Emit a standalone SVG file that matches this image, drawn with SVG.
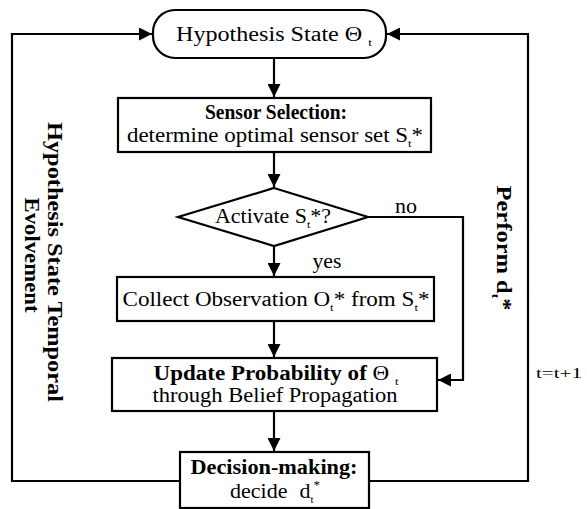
<svg xmlns="http://www.w3.org/2000/svg" width="587" height="509" viewBox="0 0 587 509">
<style>
.box{fill:#fff;stroke:#000;stroke-width:2.2}
.ln{fill:none;stroke:#000;stroke-width:2.2}
.t{font-family:"Liberation Serif","Times New Roman",serif;font-size:20px;fill:#000;text-anchor:middle}
.b{font-weight:bold}
.n{font-weight:normal}
.sub{font-size:11px}
</style>
<defs>
<marker id="ah" viewBox="0 0 10 10" refX="10" refY="5" markerWidth="15" markerHeight="13" markerUnits="userSpaceOnUse" orient="auto">
<path d="M0,0 L10,5 L0,10 z" fill="#000"/>
</marker>
</defs>
<g id="connectors">
<line class="ln" x1="274" y1="58" x2="274" y2="97" marker-end="url(#ah)"/>
<line class="ln" x1="274" y1="152" x2="274" y2="187" marker-end="url(#ah)"/>
<line class="ln" x1="274" y1="246" x2="274" y2="276" marker-end="url(#ah)"/>
<line class="ln" x1="274" y1="321" x2="274" y2="357" marker-end="url(#ah)"/>
<line class="ln" x1="274" y1="411" x2="274" y2="451" marker-end="url(#ah)"/>
<polyline class="ln" points="368,217 463,217 463,380 438,380" marker-end="url(#ah)"/>
<polyline class="ln" points="180,481 12,481 12,34 152,34" marker-end="url(#ah)"/>
<polyline class="ln" points="369,481 528,481 528,34 387,34" marker-end="url(#ah)"/>
<text class="t" x="406" y="213" textLength="22" lengthAdjust="spacingAndGlyphs">no</text>
<text class="t" x="327" y="268" textLength="29" lengthAdjust="spacingAndGlyphs">yes</text>
<text class="t b" transform="translate(48,262) rotate(90)" textLength="280" lengthAdjust="spacingAndGlyphs">Hypothesis State Temporal</text>
<text class="t b" transform="translate(25,255) rotate(90)" textLength="115" lengthAdjust="spacingAndGlyphs">Evolvement</text>
<text class="t b" transform="translate(497,248) rotate(90)" textLength="125" lengthAdjust="spacingAndGlyphs">Perform d<tspan class="sub" dy="5">t</tspan><tspan dy="-5">*</tspan></text>
<text class="t" x="559" y="378" style="font-size:15px" textLength="46" lengthAdjust="spacingAndGlyphs">t=t+1</text>
</g>
<g id="hypothesis">
<rect class="box" x="153" y="10" width="233" height="48" rx="22"/>
<text class="t" x="274" y="41" textLength="196" lengthAdjust="spacingAndGlyphs">Hypothesis State Θ <tspan class="sub" dy="5">t</tspan></text>
</g>
<g id="sensor">
<rect class="box" x="118" y="98" width="313" height="54"/>
<text class="t b" x="276" y="119" textLength="142" lengthAdjust="spacingAndGlyphs">Sensor Selection:</text>
<text class="t" x="275" y="142" textLength="296" lengthAdjust="spacingAndGlyphs">determine optimal sensor set S<tspan class="sub" dy="5">t</tspan><tspan dy="-5">*</tspan></text>
</g>
<g id="activate">
<polygon class="box" points="274,188 368,217 274,246 178,217"/>
<text class="t" x="273" y="223" textLength="116" lengthAdjust="spacingAndGlyphs">Activate S<tspan class="sub" dy="5">t</tspan><tspan dy="-5">*?</tspan></text>
</g>
<g id="collect">
<rect class="box" x="117" y="277" width="317" height="44"/>
<text class="t" x="276" y="306" textLength="307" lengthAdjust="spacingAndGlyphs">Collect Observation O<tspan class="sub" dy="5">t</tspan><tspan dy="-5">* from S</tspan><tspan class="sub" dy="5">t</tspan><tspan dy="-5">*</tspan></text>
</g>
<g id="update">
<rect class="box" x="112" y="358" width="325" height="53"/>
<text class="t b" x="276" y="380" textLength="245" lengthAdjust="spacingAndGlyphs">Update Probability of <tspan class="n">Θ </tspan><tspan class="sub n" dy="5">t</tspan></text>
<text class="t" x="275" y="402" textLength="245" lengthAdjust="spacingAndGlyphs">through Belief Propagation</text>
</g>
<g id="decision">
<rect class="box" x="180" y="452" width="189" height="56"/>
<text class="t b" x="274" y="474" textLength="167" lengthAdjust="spacingAndGlyphs">Decision-making:</text>
<text class="t" x="275" y="498" style="font-size:22px">decide<tspan dx="12">d</tspan><tspan class="sub" dy="5">t</tspan><tspan dy="-14" style="font-size:13px">*</tspan></text>
</g>
</svg>
